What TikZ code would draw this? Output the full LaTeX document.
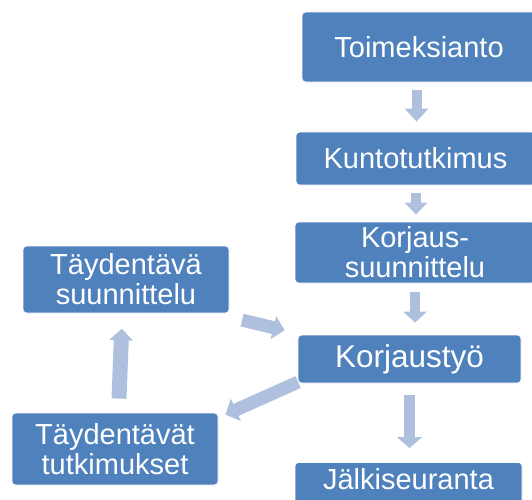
\documentclass[tikz,border=0pt]{standalone}
\usepackage{fontspec}
\setmainfont{Liberation Sans}
\usetikzlibrary{arrows.meta,calc,backgrounds}
\definecolor{boxblue}{RGB}{79,129,189}
\definecolor{arrowblue}{RGB}{174,192,221}
\tikzset{
  box/.style={fill=boxblue, draw=white, line width=0.8pt, rounded corners=3.5pt,
    text=white, align=center, inner sep=0pt, font=\fontsize{29}{30}\selectfont},
  blockarrow/.style={draw=arrowblue, line cap=butt},
}
\begin{document}
\begin{tikzpicture}[x=1pt,y=-1pt]
\useasboundingbox (0,0) rectangle (532,499);
\clip (0,0) rectangle (532,499);
% right column
\node[box, minimum width=234pt, minimum height=70pt] (n1) at (419,47) {Toimeksianto};
\node[box, minimum width=239pt, minimum height=53pt] (n2) at (415.5,158.5) {Kuntotutkimus};
\node[box, minimum width=240pt, minimum height=61pt] (n3) at (415,252.5) {Korjaus-\\suunnittelu};
\node[box, minimum width=223pt, minimum height=48pt, font=\fontsize{31.5}{32}\selectfont] (n4) at (409.5,359) {Korjaustyö};
\node[box, anchor=north, minimum width=227pt, inner ysep=6pt, text height=21pt, text depth=30pt] (n5) at (408.5,462) {Jälkiseuranta};
% left column
\node[box, minimum width=206pt, minimum height=67pt] (ts) at (126,279.5) {Täydentävä\\suunnittelu};
\node[box, minimum width=206pt, minimum height=72pt] (tt) at (115,449) {Täydentävät\\tutkimukset};
% arrows
\begin{scope}[on background layer]
\draw[blockarrow, line width=10pt, -{Triangle[length=13pt,width=23pt]}]
  ($(n1.south)+(-2.5,8)$) -- ($(n1.south|-n2.north)+(-2.5,-10)$);
\draw[blockarrow, line width=10pt, -{Triangle[length=12pt,width=22pt]}]
  ($(n2.south)+(0.5,8)$) -- ($(n2.south|-n3.north)+(0.5,-7)$);
\draw[blockarrow, line width=10pt, -{Triangle[length=11pt,width=23pt]}]
  ($(n3.south)+(0,9)$) -- ($(n3.south|-n4.north)+(0,-12)$);
\draw[blockarrow, line width=11pt, -{Triangle[length=11pt,width=25pt]}]
  ($(n4.south)+(0,12)$) -- ($(n4.south|-n5.north)+(0,-14)$);
\draw[blockarrow, line width=13pt, -{Triangle[length=11.5pt,width=23pt]}]
  ($(ts.south east)+(12.7,6.7)$) -- ($(n4.north west)+(-13,-4.3)$);
\draw[blockarrow, line width=13pt, -{Triangle[length=11.5pt,width=24pt]}]
  ($(n4.south west)+(0.5,-1.3)$) -- ($(tt.north east)+(7,2)$);
\draw[blockarrow, line width=15pt, -{Triangle[length=11.5pt,width=23pt]}]
  ($(tt.north)+(4,-14)$) -- ($(ts.south)+(-4.3,15.3)$);
\end{scope}
\end{tikzpicture}
\end{document}
